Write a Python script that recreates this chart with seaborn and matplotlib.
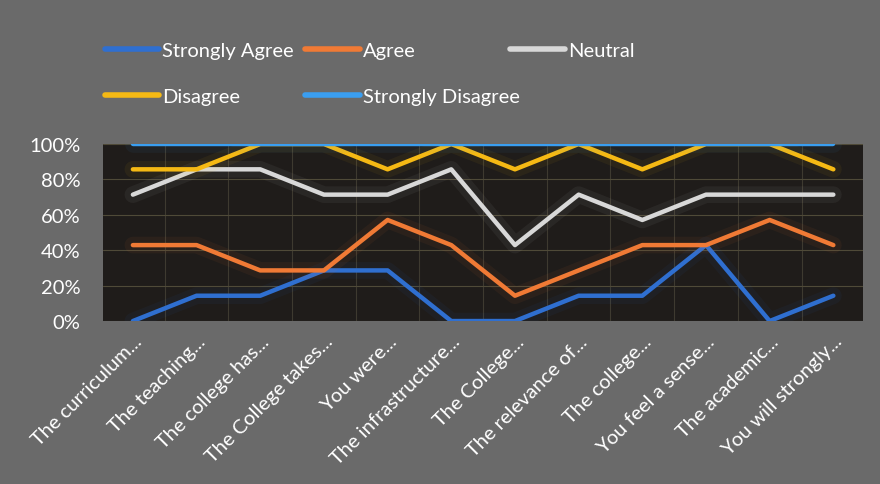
import seaborn as sns
import pandas as pd
import matplotlib.pyplot as plt
import matplotlib.patheffects as pe
from matplotlib.ticker import FuncFormatter, MultipleLocator

questions = ['The curriculum...', 'The teaching...', 'The college has...', 'The College takes...',
             'You were...', 'The infrastructure...', 'The College...', 'The relevance of...',
             'The college...', 'You feel a sense...', 'The academic...', 'You will strongly...']

# stacked (cumulative) share of answers, in percent
strongly_agree = [0, 14.3, 14.3, 28.6, 28.6, 0, 0, 14.3, 14.3, 42.9, 0, 14.3]
agree = [42.9, 42.9, 28.6, 28.6, 57.1, 42.9, 14.3, 28.6, 42.9, 42.9, 57.1, 42.9]
neutral = [71.4, 85.7, 85.7, 71.4, 71.4, 85.7, 42.9, 71.4, 57.1, 71.4, 71.4, 71.4]
disagree = [85.7, 85.7, 100, 100, 85.7, 100, 85.7, 100, 85.7, 100, 100, 85.7]
strongly_disagree = [100] * 12

series = ['Strongly Agree', 'Agree', 'Neutral', 'Disagree', 'Strongly Disagree']
colors = ['#2f6fd0', '#f07a35', '#d8d8d8', '#f5b914', '#3a9ef0']

df = pd.DataFrame({'Strongly Agree': strongly_agree, 'Agree': agree, 'Neutral': neutral,
                   'Disagree': disagree, 'Strongly Disagree': strongly_disagree})
df['pos'] = range(len(questions))
long = df.melt(id_vars='pos', var_name='answer', value_name='pct')

sns.set_style('white')
plt.rcParams['font.family'] = ['Lato', 'DejaVu Sans']

fig = plt.figure(figsize=(8.8, 4.85), dpi=100)
fig.patch.set_facecolor('#6a6a6a')
ax = fig.add_axes([0.117, 0.336, 0.864, 0.365])
ax.set_facecolor('#1f1c1a')

sns.lineplot(data=long, x='pos', y='pct', hue='answer', hue_order=series,
             palette=colors, linewidth=3.2, ax=ax, legend=True)
for line, c in zip(ax.get_lines(), colors):
    line.set_path_effects([pe.Stroke(linewidth=12, foreground=c, alpha=0.06), pe.Normal()])

ax.set_xlim(-0.47, len(questions) - 0.53)
ax.set_ylim(0, 100)
ax.yaxis.set_major_locator(MultipleLocator(20))
ax.yaxis.set_major_formatter(FuncFormatter(lambda v, p: f'{v:.0f}%'))
ax.set_xticks(range(len(questions)))
ax.set_xticklabels(questions, rotation=45, ha='right', rotation_mode='anchor')
ax.set_xticks([i + 0.5 for i in range(len(questions) - 1)], minor=True)
ax.grid(axis='y', which='major', color='#4f4a38', linewidth=0.8)
ax.grid(axis='x', which='minor', color='#3e3a30', linewidth=0.8)
ax.tick_params(axis='both', which='both', length=0, colors='white', labelsize=14.5)
ax.tick_params(axis='y', pad=16)
ax.tick_params(axis='x', pad=8)
ax.set_xlabel('')
ax.set_ylabel('')
for s in ax.spines.values():
    s.set_visible(False)

handles, labels = ax.get_legend_handles_labels()
ax.get_legend().remove()

# Excel-like legend: three fixed columns, filled row by row
columns = [[0, 3], [1, 4], [2]]
col_x = [0.119, 0.347, 0.580]
for idx, x0 in zip(columns, col_x):
    leg = fig.legend([handles[i] for i in idx], [labels[i] for i in idx],
                     loc='upper left', bbox_to_anchor=(x0, 0.912), frameon=False,
                     borderpad=0, borderaxespad=0, handlelength=2.7, handletextpad=0.15,
                     labelspacing=1.45, fontsize=14.5)
    for t in leg.get_texts():
        t.set_color('white')
    for h in leg.legend_handles:
        h.set_linewidth(4)
        h.set_path_effects([])

fig.savefig('out.png', dpi=100, facecolor=fig.get_facecolor())
